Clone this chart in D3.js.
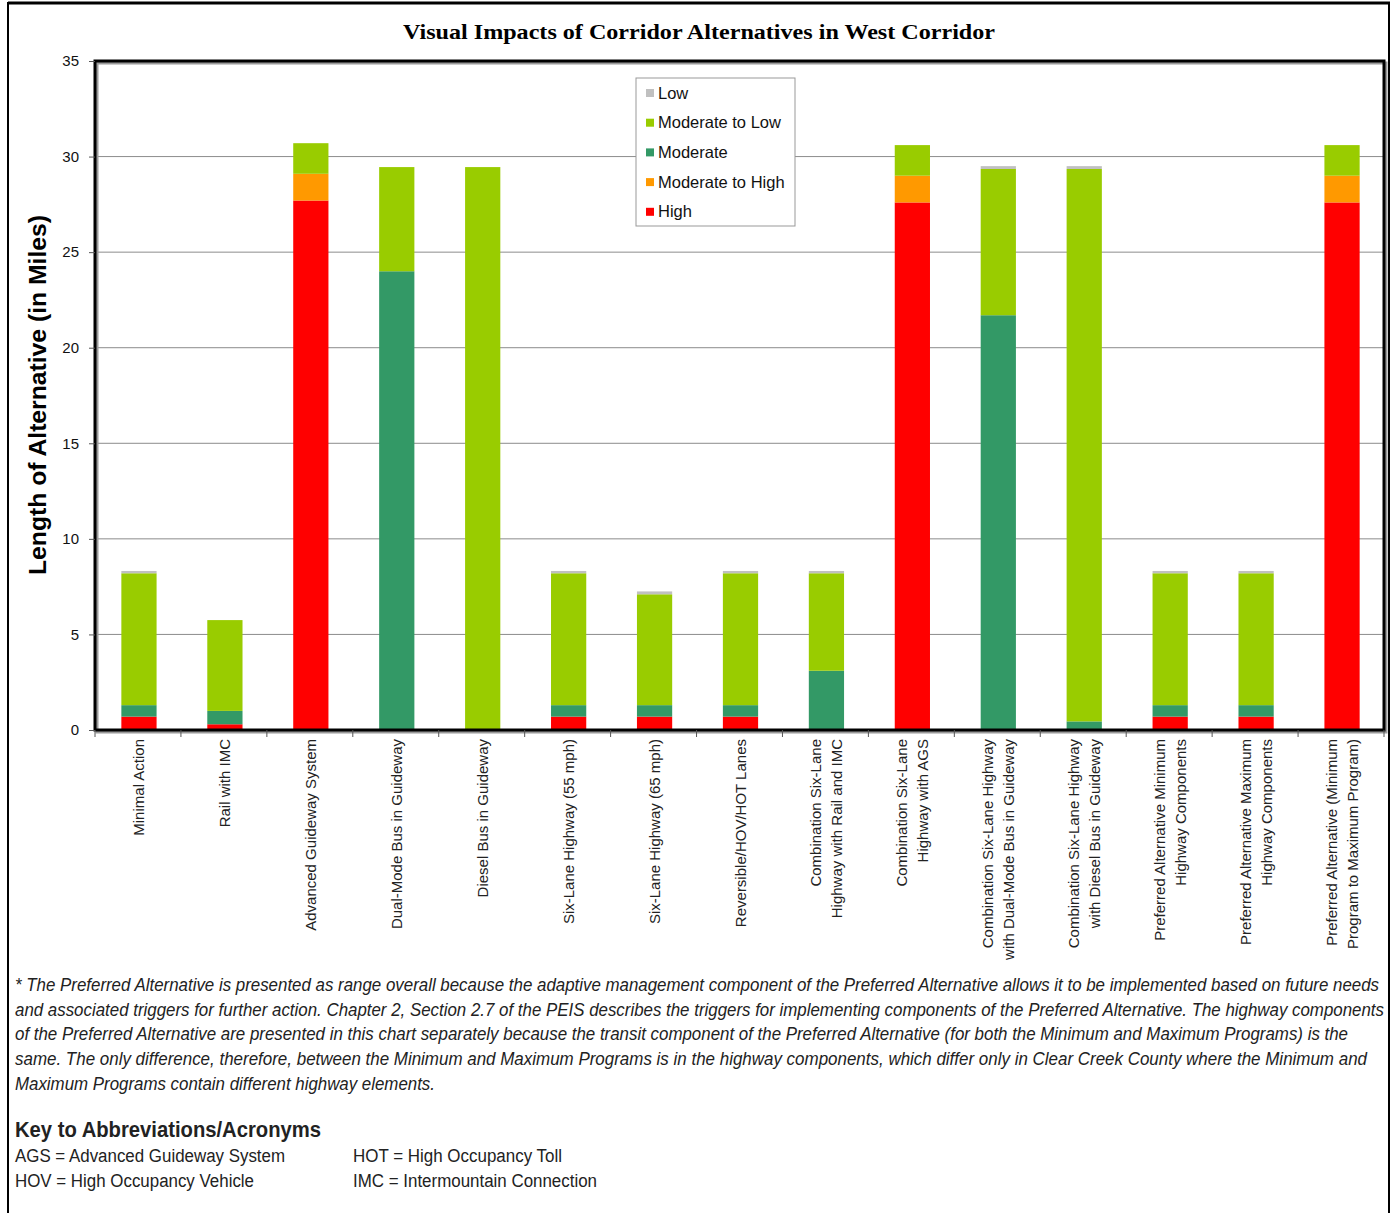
<!DOCTYPE html>
<html>
<head>
<meta charset="utf-8">
<script src="https://cdn.jsdelivr.net/npm/d3@7"></script>
<style>
  body { margin: 0; background: #fff; }
  svg { display: block; }
</style>
</head>
<body>
<script>
// categories (label lines) and stacked values, in miles
const categories = [
  ["Minimal Action"],
  ["Rail with IMC"],
  ["Advanced Guideway System"],
  ["Dual-Mode Bus in Guideway"],
  ["Diesel Bus in Guideway"],
  ["Six-Lane Highway (55 mph)"],
  ["Six-Lane Highway (65 mph)"],
  ["Reversible/HOV/HOT Lanes"],
  ["Combination Six-Lane", "Highway with Rail and IMC"],
  ["Combination Six-Lane", "Highway with AGS"],
  ["Combination Six-Lane Highway", "with Dual-Mode Bus in Guideway"],
  ["Combination Six-Lane Highway", "with Diesel Bus in Guideway"],
  ["Preferred Alternative Minimum", "Highway Components"],
  ["Preferred Alternative Maximum", "Highway Components"],
  ["Preferred Alternative (Minimum", "Program to Maximum Program)"]
];
const seriesNames = ["High", "Moderate to High", "Moderate", "Moderate to Low", "Low"];
const high         = [0.7, 0.3, 27.7, 0,    0,     0.7, 0.7, 0.7, 0,   27.6, 0,     0,     0.7, 0.7, 27.6];
const modHigh      = [0,   0,   1.4,  0,    0,     0,   0,   0,   0,   1.4,  0,     0,     0,   0,   1.4];
const moderate     = [0.6, 0.7, 0,    24.0, 0,     0.6, 0.6, 0.6, 3.1, 0,    21.7,  0.45,  0.6, 0.6, 0];
const modLow       = [6.9, 4.75,1.6,  5.45, 29.45, 6.9, 5.8, 6.9, 5.1, 1.6,  7.65,  28.9,  6.9, 6.9, 1.6];
const low          = [0.12,0,   0,    0,    0,     0.12,0.15,0.12,0.12,0,    0.15,  0.15,  0.12,0.12,0];
const colors = ["#ff0000", "#ff9900", "#339966", "#99cc00", "#c0c0c0"];
const yTicks = [0, 5, 10, 15, 20, 25, 30, 35];

const footnote = [
  "* The Preferred Alternative is presented as range overall because the adaptive management component of the Preferred Alternative allows it to be implemented based on future needs",
  "and associated triggers for further action. Chapter 2, Section 2.7 of the PEIS describes the triggers for implementing components of the Preferred Alternative. The highway components",
  "of the Preferred Alternative are presented in this chart separately because the transit component of the Preferred Alternative (for both the Minimum and Maximum Programs) is the",
  "same.  The only difference, therefore, between the Minimum and Maximum Programs is in the highway components, which differ only in Clear Creek County where the Minimum and",
  "Maximum Programs contain different highway elements."
];
const footWidths = [1364, 1369, 1333, 1352, 420];

const W = 1394, H = 1213;
const margin = {top: 61, right: 10, bottom: 483, left: 95};
const plotW = 1384 - margin.left, plotH = 730 - margin.top;
const sans = "'Liberation Sans', Arial, sans-serif";

const svg = d3.select("body").append("svg")
  .attr("width", W).attr("height", H)
  .style("font-family", sans);

// outer page frame
svg.append("line").attr("x1", 8).attr("x2", 1390).attr("y1", 3).attr("y2", 3)
  .attr("stroke", "#000").attr("stroke-width", 3);
svg.append("line").attr("x1", 8).attr("x2", 8).attr("y1", 2).attr("y2", H)
  .attr("stroke", "#000").attr("stroke-width", 2);
svg.append("line").attr("x1", 1389).attr("x2", 1389).attr("y1", 2).attr("y2", H)
  .attr("stroke", "#000").attr("stroke-width", 2);

// title
svg.append("text")
  .attr("x", 403).attr("y", 39)
  .attr("textLength", 592).attr("lengthAdjust", "spacingAndGlyphs")
  .style("font-family", "'Liberation Serif', 'Times New Roman', serif")
  .style("font-weight", "bold").style("font-size", "22px")
  .text("Visual Impacts of Corridor Alternatives in West Corridor");

const g = svg.append("g").attr("transform", `translate(${margin.left},${margin.top})`);

g.append("rect").attr("width", plotW).attr("height", plotH).attr("fill", "#fff");

const x = d3.scaleBand().domain(d3.range(categories.length)).range([0, plotW]).paddingInner(0.59).paddingOuter(0.295);
const y = d3.scaleLinear().domain([0, 35]).range([plotH, 0]);

// gridlines
g.selectAll(".grid").data(yTicks.slice(1, -1)).enter().append("line")
  .attr("x1", 0).attr("x2", plotW)
  .attr("y1", d => y(d)).attr("y2", d => y(d))
  .attr("stroke", "#8c8c8c").attr("stroke-width", 1);

// stacked data
const rows = categories.map((c, i) => ({i, High: high[i], "Moderate to High": modHigh[i], Moderate: moderate[i], "Moderate to Low": modLow[i], Low: low[i]}));
const stacked = d3.stack().keys(seriesNames)(rows);

g.selectAll(".layer").data(stacked).enter().append("g")
  .attr("fill", (d, k) => colors[k])
  .selectAll("rect").data(d => d).enter().append("rect")
  .attr("x", d => x(d.data.i) + 1)
  .attr("width", x.bandwidth())
  .attr("y", d => y(d[1]))
  .attr("height", d => Math.max(0, y(d[0]) - y(d[1])));

// frame with light shadow
g.append("rect").attr("x", 2).attr("y", 2).attr("width", plotW).attr("height", plotH)
  .attr("fill", "none").attr("stroke", "#9a9a9a").attr("stroke-width", 3);
g.append("rect").attr("width", plotW).attr("height", plotH)
  .attr("fill", "none").attr("stroke", "#000").attr("stroke-width", 3);

// y axis
const yAxis = g.append("g").call(d3.axisLeft(y).tickValues(yTicks).tickSize(6).tickPadding(10));
yAxis.select(".domain").remove();
yAxis.selectAll("line").attr("stroke", "#555");
yAxis.selectAll("text").style("font-size", "15px").style("font-family", sans).attr("fill", "#111");

svg.append("text")
  .attr("transform", "translate(46,395) rotate(-90)")
  .attr("text-anchor", "middle")
  .attr("textLength", 360).attr("lengthAdjust", "spacingAndGlyphs")
  .style("font-weight", "bold").style("font-size", "23px")
  .text("Length of Alternative (in Miles)");

// x axis ticks at band boundaries
const bounds = d3.range(categories.length + 1).map(i => i * x.step());
g.selectAll(".xt").data(bounds).enter().append("line")
  .attr("x1", d => d).attr("x2", d => d)
  .attr("y1", plotH).attr("y2", plotH + 7)
  .attr("stroke", "#555");

// x labels
const lab = g.selectAll(".xl").data(categories).enter().append("g")
  .attr("transform", (d, i) => `translate(${x(i) + x.bandwidth() / 2 + 1},${plotH + 9}) rotate(-90)`);
lab.selectAll("text").data(d => d.map((t, j) => ({t, j, n: d.length}))).enter().append("text")
  .attr("text-anchor", "end")
  .attr("x", 0)
  .attr("y", d => (d.j - (d.n - 1) / 2) * 21 + 5)
  .style("font-size", "15px").attr("fill", "#222")
  .text(d => d.t);

// legend
const leg = svg.append("g").attr("transform", "translate(636,78)");
leg.append("rect").attr("width", 159).attr("height", 148).attr("fill", "#fff").attr("stroke", "#999");
const revNames = seriesNames.slice().reverse();
const revColors = colors.slice().reverse();
revNames.forEach((n, k) => {
  const row = leg.append("g").attr("transform", `translate(10,${15 + k * 29.7})`);
  row.append("rect").attr("x", 0).attr("y", -4).attr("width", 8).attr("height", 8).attr("fill", revColors[k]);
  row.append("text").attr("x", 12).attr("y", 5.5).style("font-size", "16.5px").attr("fill", "#111").text(n);
});

// narrow text: regular sans squeezed horizontally
const sx = 0.8;
function narrowText(str, x0, y0, width, size, opts) {
  const t = svg.append("text")
    .attr("transform", `translate(${x0},${y0}) scale(${sx},1)`)
    .attr("x", 0).attr("y", 0)
    .attr("textLength", width / sx).attr("lengthAdjust", "spacingAndGlyphs")
    .style("font-family", sans).style("font-size", size + "px")
    .attr("fill", "#222")
    .text(str);
  if (opts && opts.italic) t.style("font-style", "italic");
  if (opts && opts.bold) t.style("font-weight", "bold");
  return t;
}

// footnote
footnote.forEach((t, i) => narrowText(t, 15, 991 + i * 24.7, footWidths[i], 18, {italic: true}));

// key
narrowText("Key to Abbreviations/Acronyms", 15, 1137, 306, 22, {bold: true});
const keyItems = [
  ["AGS = Advanced Guideway System", 15, 1162, 270],
  ["HOT = High Occupancy Toll", 353, 1162, 209],
  ["HOV = High Occupancy Vehicle", 15, 1187, 239],
  ["IMC = Intermountain Connection", 353, 1187, 244]
];
keyItems.forEach(k => narrowText(k[0], k[1], k[2], k[3], 19));
</script>
</body>
</html>
